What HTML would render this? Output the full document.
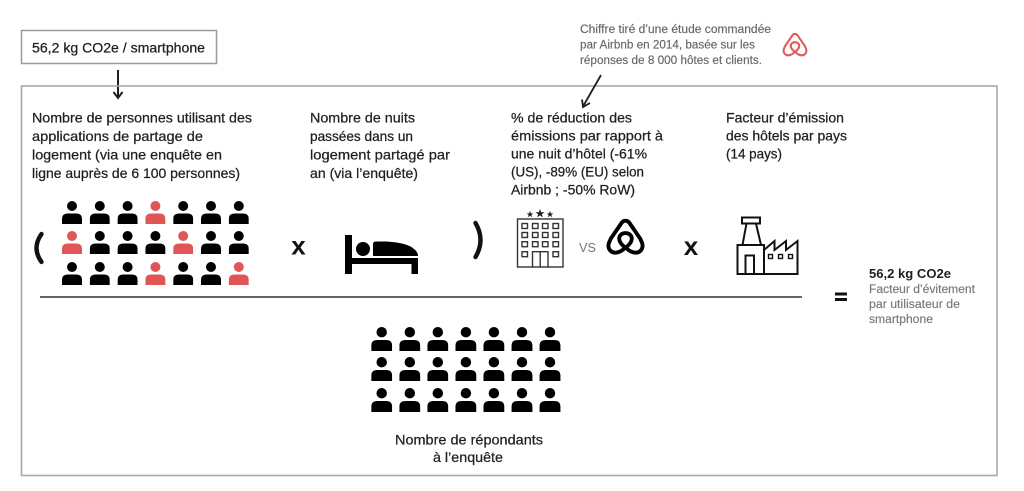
<!DOCTYPE html>
<html><head><meta charset="utf-8">
<style>
html,body{margin:0;padding:0;background:#fff;}
svg{display:block;}
text{font-family:"Liberation Sans",sans-serif;}
</style></head>
<body>
<svg width="1024" height="491" viewBox="0 0 1024 491" xmlns="http://www.w3.org/2000/svg">
<defs>
<symbol id="p" viewBox="0 0 20 23">
<circle cx="10" cy="5" r="5"/>
<path d="M0,23 V18 Q0,12.5 6,12.5 H14 Q20,12.5 20,18 V23 Z"/>
</symbol>
<symbol id="abnb" viewBox="0 0 40 38">
<path d="M20,30 C16,35 8,38 4,33 C1,29 3,25 5,21 L16,5 C18,2 22,2 24,5 L35,21 C37,25 39,29 36,33 C32,38 24,35 20,30 Z" fill="none" stroke-linejoin="round"/>
<path d="M20,30.5 C13,25.5 12,20 15.5,17 C18,15 22,15 24.5,17 C28,20 27,25.5 20,30.5 Z" fill="none" stroke-linejoin="round"/>
</symbol>
</defs>
<rect width="1024" height="491" fill="#fff"/>

<!-- top box -->
<rect x="21.5" y="30.5" width="195" height="33" fill="none" stroke="#9a9a9a" stroke-width="1.5"/>
<text x="32" y="52.5" font-size="14" fill="#1f1f1f" stroke="#1f1f1f" stroke-width="0.25" textLength="173" lengthAdjust="spacingAndGlyphs">56,2 kg CO2e / smartphone</text>
<!-- top arrow -->
<line x1="118" y1="70" x2="118" y2="97" stroke="#1f1f1f" stroke-width="2"/>
<path d="M113.5,92 L118,98 L122.5,92" fill="none" stroke="#1f1f1f" stroke-width="2"/>

<!-- main box -->
<rect x="21.5" y="86" width="975.5" height="389.5" fill="none" stroke="#a8a8a8" stroke-width="1.6"/>

<!-- annotation -->
<g font-size="11.5" fill="#666" stroke="#666" stroke-width="0.15">
<text x="580" y="33" textLength="191" lengthAdjust="spacingAndGlyphs">Chiffre tiré d’une étude commandée</text>
<text x="580" y="48.5" textLength="175" lengthAdjust="spacingAndGlyphs">par Airbnb en 2014, basée sur les</text>
<text x="580" y="64" textLength="182" lengthAdjust="spacingAndGlyphs">réponses de 8 000 hôtes et clients.</text>
</g>
<use href="#abnb" x="782" y="32" width="26" height="25" stroke="#e05a5a" stroke-width="3.2"/>
<line x1="601" y1="75" x2="583" y2="106.5" stroke="#1f1f1f" stroke-width="1.8"/>
<path d="M582,99.5 L583,107 L590,103" fill="none" stroke="#1f1f1f" stroke-width="1.8"/>

<!-- text blocks -->
<g font-size="14" fill="#1f1f1f" stroke="#1f1f1f" stroke-width="0.25">
<text x="32" y="122.5" textLength="220" lengthAdjust="spacingAndGlyphs">Nombre de personnes utilisant des</text>
<text x="32" y="141" textLength="171" lengthAdjust="spacingAndGlyphs">applications de partage de</text>
<text x="32" y="159.5" textLength="190" lengthAdjust="spacingAndGlyphs">logement (via une enquête en</text>
<text x="32" y="178" textLength="208" lengthAdjust="spacingAndGlyphs">ligne auprès de 6 100 personnes)</text>

<text x="310" y="122.5" textLength="105" lengthAdjust="spacingAndGlyphs">Nombre de nuits</text>
<text x="310" y="141" textLength="103" lengthAdjust="spacingAndGlyphs">passées dans un</text>
<text x="310" y="159.5" textLength="140" lengthAdjust="spacingAndGlyphs">logement partagé par</text>
<text x="310" y="178" textLength="108" lengthAdjust="spacingAndGlyphs">an (via l’enquête)</text>

<text x="511" y="122.5" textLength="121" lengthAdjust="spacingAndGlyphs">% de réduction des</text>
<text x="511" y="140.5" textLength="152" lengthAdjust="spacingAndGlyphs">émissions par rapport à</text>
<text x="511" y="158.5" textLength="136" lengthAdjust="spacingAndGlyphs">une nuit d’hôtel (-61%</text>
<text x="511" y="176.7" textLength="133" lengthAdjust="spacingAndGlyphs">(US), -89% (EU) selon</text>
<text x="511" y="194.5" textLength="124" lengthAdjust="spacingAndGlyphs">Airbnb ; -50% RoW)</text>

<text x="726" y="122.5" textLength="118" lengthAdjust="spacingAndGlyphs">Facteur d’émission</text>
<text x="726" y="140.5" textLength="121" lengthAdjust="spacingAndGlyphs">des hôtels par pays</text>
<text x="726" y="158.5" textLength="56" lengthAdjust="spacingAndGlyphs">(14 pays)</text>
</g>

<!-- parens -->
<path d="M41.5,234 Q31.5,248 41.5,262" fill="none" stroke="#111" stroke-width="4.4" stroke-linecap="round"/>
<path d="M475.5,223 Q485.5,240 475.5,257" fill="none" stroke="#111" stroke-width="4.4" stroke-linecap="round"/>

<!-- top people grid -->
<g>
<use href="#p" x="62" y="201" width="20" height="23" fill="#000"/>
<use href="#p" x="89.8" y="201" width="20" height="23" fill="#000"/>
<use href="#p" x="117.6" y="201" width="20" height="23" fill="#000"/>
<use href="#p" x="145.4" y="201" width="20" height="23" fill="#e05555"/>
<use href="#p" x="173.2" y="201" width="20" height="23" fill="#000"/>
<use href="#p" x="201" y="201" width="20" height="23" fill="#000"/>
<use href="#p" x="228.8" y="201" width="20" height="23" fill="#000"/>

<use href="#p" x="62" y="231" width="20" height="23" fill="#e05555"/>
<use href="#p" x="89.8" y="231" width="20" height="23" fill="#000"/>
<use href="#p" x="117.6" y="231" width="20" height="23" fill="#000"/>
<use href="#p" x="145.4" y="231" width="20" height="23" fill="#000"/>
<use href="#p" x="173.2" y="231" width="20" height="23" fill="#e05555"/>
<use href="#p" x="201" y="231" width="20" height="23" fill="#000"/>
<use href="#p" x="228.8" y="231" width="20" height="23" fill="#000"/>

<use href="#p" x="62" y="262" width="20" height="23" fill="#000"/>
<use href="#p" x="89.8" y="262" width="20" height="23" fill="#000"/>
<use href="#p" x="117.6" y="262" width="20" height="23" fill="#000"/>
<use href="#p" x="145.4" y="262" width="20" height="23" fill="#e05555"/>
<use href="#p" x="173.2" y="262" width="20" height="23" fill="#000"/>
<use href="#p" x="201" y="262" width="20" height="23" fill="#000"/>
<use href="#p" x="228.8" y="262" width="20" height="23" fill="#e05555"/>
</g>

<!-- x signs -->
<text x="298.5" y="254.5" font-size="26" font-weight="bold" fill="#111" text-anchor="middle">x</text>
<text x="691" y="255" font-size="26" font-weight="bold" fill="#111" text-anchor="middle">x</text>

<!-- bed -->
<g fill="#000">
<rect x="345" y="235" width="7" height="39"/>
<circle cx="363" cy="249" r="7"/>
<path d="M373,244 Q373,241.5 376,241.5 H387 Q408,243 414,249 Q418,252 418,256 H373 Z"/>
<rect x="352" y="258" width="66" height="6"/>
<rect x="411.5" y="258" width="6.5" height="16"/>
</g>

<!-- hotel -->
<g fill="none" stroke="#333" stroke-width="1.4">
<rect x="517.5" y="219" width="45.5" height="48"/>
<rect x="522" y="223.5" width="5.5" height="5"/><rect x="532.5" y="223.5" width="5.5" height="5"/><rect x="542.5" y="223.5" width="5.5" height="5"/><rect x="553" y="223.5" width="5.5" height="5"/>
<rect x="522" y="232.5" width="5.5" height="5"/><rect x="532.5" y="232.5" width="5.5" height="5"/><rect x="542.5" y="232.5" width="5.5" height="5"/><rect x="553" y="232.5" width="5.5" height="5"/>
<rect x="522" y="241.7" width="5.5" height="5"/><rect x="532.5" y="241.7" width="5.5" height="5"/><rect x="542.5" y="241.7" width="5.5" height="5"/><rect x="553" y="241.7" width="5.5" height="5"/>
<rect x="522" y="251.7" width="5.5" height="5"/><rect x="553" y="251.7" width="5.5" height="5"/>
<path d="M532.5,267 V251.7 H548 V267 M540.2,251.7 V267"/>
</g>
<g fill="#222">
<polygon points="530,211 530.9,213.4 533.3,213.4 531.4,214.9 532.1,217.3 530,215.8 527.9,217.3 528.6,214.9 526.7,213.4 529.1,213.4"/>
<polygon points="540,209 541.2,212.2 544.5,212.2 541.9,214.2 542.8,217.4 540,215.4 537.2,217.4 538.1,214.2 535.5,212.2 538.8,212.2"/>
<polygon points="550,211 550.9,213.4 553.3,213.4 551.4,214.9 552.1,217.3 550,215.8 547.9,217.3 548.6,214.9 546.7,213.4 549.1,213.4"/>
</g>
<text x="579" y="252" font-size="13" fill="#777" textLength="17" lengthAdjust="spacingAndGlyphs">VS</text>
<use href="#abnb" x="606" y="218" width="39" height="37" stroke="#000" stroke-width="4"/>

<!-- factory -->
<g fill="none" stroke="#111" stroke-width="2" stroke-linejoin="miter">
<rect x="742" y="217.5" width="18" height="6"/>
<path d="M746.5,223.5 L742.5,245 M756,223.5 L761,245"/>
<rect x="737.5" y="245" width="26.5" height="29"/>
<path d="M745.5,274 V255.5 H754 V274"/>
<path d="M764,250 L774.5,241 V250 L786,241 V250 L797.5,241 V274 H764"/>
<rect x="768.5" y="254.5" width="4" height="4" stroke-width="1.4"/>
<rect x="778.5" y="254.5" width="4" height="4" stroke-width="1.4"/>
<rect x="788.5" y="254.5" width="4" height="4" stroke-width="1.4"/>
</g>

<!-- fraction line -->
<line x1="40" y1="297" x2="802" y2="297" stroke="#333" stroke-width="1.5"/>

<!-- equals -->
<rect x="835" y="292.5" width="12" height="3" fill="#111"/>
<rect x="835" y="298" width="12" height="3" fill="#111"/>

<!-- result -->
<text x="869" y="278" font-size="13" font-weight="bold" fill="#1f1f1f" textLength="82" lengthAdjust="spacingAndGlyphs">56,2 kg CO2e</text>
<g font-size="11.5" fill="#777" stroke="#777" stroke-width="0.15">
<text x="869" y="293" textLength="106" lengthAdjust="spacingAndGlyphs">Facteur d’évitement</text>
<text x="869" y="308" textLength="91" lengthAdjust="spacingAndGlyphs">par utilisateur de</text>
<text x="869" y="323" textLength="64" lengthAdjust="spacingAndGlyphs">smartphone</text>
</g>

<!-- bottom people grid -->
<g fill="#000">
<use href="#p" x="371.2" y="327" width="21" height="24"/><use href="#p" x="399.3" y="327" width="21" height="24"/><use href="#p" x="427.3" y="327" width="21" height="24"/><use href="#p" x="455.4" y="327" width="21" height="24"/><use href="#p" x="483.4" y="327" width="21" height="24"/><use href="#p" x="511.5" y="327" width="21" height="24"/><use href="#p" x="539.5" y="327" width="21" height="24"/>
<use href="#p" x="371.2" y="357" width="21" height="24"/><use href="#p" x="399.3" y="357" width="21" height="24"/><use href="#p" x="427.3" y="357" width="21" height="24"/><use href="#p" x="455.4" y="357" width="21" height="24"/><use href="#p" x="483.4" y="357" width="21" height="24"/><use href="#p" x="511.5" y="357" width="21" height="24"/><use href="#p" x="539.5" y="357" width="21" height="24"/>
<use href="#p" x="371.2" y="388" width="21" height="24"/><use href="#p" x="399.3" y="388" width="21" height="24"/><use href="#p" x="427.3" y="388" width="21" height="24"/><use href="#p" x="455.4" y="388" width="21" height="24"/><use href="#p" x="483.4" y="388" width="21" height="24"/><use href="#p" x="511.5" y="388" width="21" height="24"/><use href="#p" x="539.5" y="388" width="21" height="24"/>
</g>
<g font-size="14" fill="#1f1f1f" stroke="#1f1f1f" stroke-width="0.25">
<text x="395" y="444.5" textLength="148" lengthAdjust="spacingAndGlyphs">Nombre de répondants</text>
<text x="433" y="462" textLength="70" lengthAdjust="spacingAndGlyphs">à l’enquête</text>
</g>
</svg>
</body></html>
